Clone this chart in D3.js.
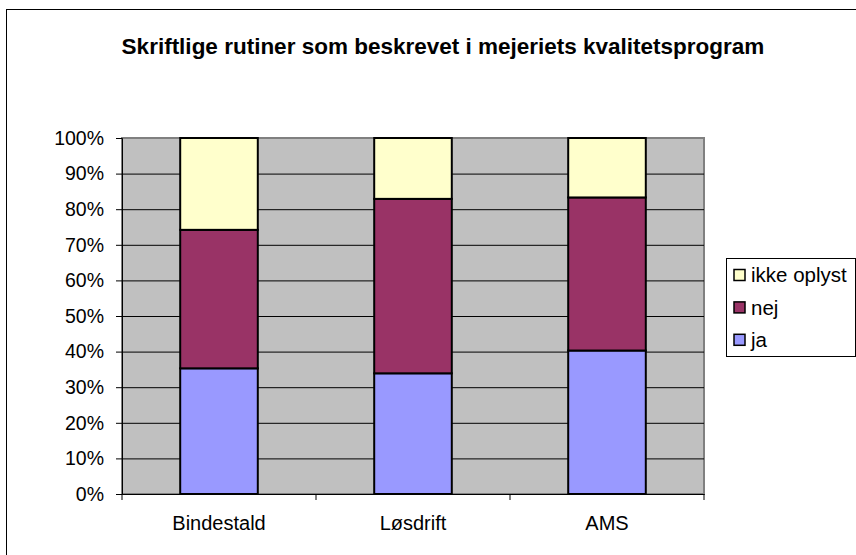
<!DOCTYPE html>
<html>
<head>
<meta charset="utf-8">
<script src="https://cdn.jsdelivr.net/npm/d3@7"></script>
<style>
  body { margin: 0; background: #fff; }
  text { font-family: Arial, "Liberation Sans", sans-serif; fill: #000; }
</style>
</head>
<body>
<svg id="chart" width="856" height="555"></svg>
<script>
// data (percent of each group)
const categories = ['Bindestald', 'Løsdrift', 'AMS'];
const ja = [35.3, 33.9, 40.3];
const nej = [38.9, 49.0, 43.0];
const ikkeOplyst = [25.8, 17.1, 16.7];
const seriesNames = ['ja', 'nej', 'ikke oplyst'];
const seriesColors = ['#9999FF', '#993366', '#FFFFCC'];
const yTicks = [0, 10, 20, 30, 40, 50, 60, 70, 80, 90, 100];

const svg = d3.select('#chart');
const margin = { top: 138, left: 122, right: 152, bottom: 61 };
const plotW = 856 - margin.left - margin.right;
const plotH = 555 - margin.top - margin.bottom;

// outer chart frame
svg.append('rect')
    .attr('x', 6.5).attr('y', 9.5)
    .attr('width', 860).attr('height', 560)
    .attr('fill', '#fff')
    .attr('stroke', '#000');

svg.append('text')
    .attr('x', 443).attr('y', 54)
    .attr('text-anchor', 'middle')
    .style('font-weight', 'bold')
    .style('font-size', '22.5px')
    .text('Skriftlige rutiner som beskrevet i mejeriets kvalitetsprogram');

const xScale = d3.scaleBand()
    .domain(categories)
    .range([margin.left, margin.left + plotW]);

const yScale = d3.scaleLinear()
    .domain([0, 100])
    .range([margin.top + plotH, margin.top]);

// plot background
svg.append('rect')
    .attr('x', xScale.range()[0]).attr('y', yScale(100))
    .attr('width', plotW).attr('height', plotH)
    .attr('fill', '#C0C0C0')
    .attr('stroke', '#808080')
    .attr('stroke-width', 2);

// gridlines
svg.selectAll('.grid')
    .data(yTicks.slice(1, -1))
    .join('line')
    .attr('x1', margin.left).attr('x2', margin.left + plotW)
    .attr('y1', d => yScale(d) + 0.5).attr('y2', d => yScale(d) + 0.5)
    .attr('stroke', '#000');

// stack the series
const rows = categories.map((c, i) => ({ cat: c, 'ja': ja[i], 'nej': nej[i], 'ikke oplyst': ikkeOplyst[i] }));
const stacked = d3.stack().keys(seriesNames)(rows);

const barW = xScale.bandwidth() / 2.5;
svg.append('g')
    .selectAll('g')
    .data(stacked)
    .join('g')
    .attr('fill', (d, i) => seriesColors[i])
    .selectAll('rect')
    .data(d => d)
    .join('rect')
    .attr('x', d => xScale(d.data.cat) + (xScale.bandwidth() - barW) / 2)
    .attr('y', d => yScale(d[1]))
    .attr('width', barW)
    .attr('height', d => yScale(d[0]) - yScale(d[1]))
    .attr('stroke', '#000')
    .attr('stroke-width', 2);

// y axis
const yAxisG = svg.append('g')
    .attr('transform', `translate(${margin.left},0)`)
    .call(d3.axisLeft(yScale).tickValues(yTicks).tickFormat(d => d + '%').tickSize(6).tickPadding(12));
yAxisG.selectAll('text').style('font-size', '19.5px');

// x axis with ticks on band edges
const xAxisG = svg.append('g')
    .attr('transform', `translate(0,${margin.top + plotH})`)
    .call(d3.axisBottom(xScale).tickSize(0).tickPadding(22));
xAxisG.selectAll('text').style('font-size', '20px');
xAxisG.selectAll('.edge')
    .data(d3.range(categories.length + 1))
    .join('line')
    .attr('x1', i => margin.left + i * xScale.step())
    .attr('x2', i => margin.left + i * xScale.step())
    .attr('y1', 0).attr('y2', 6)
    .attr('stroke', '#000');
svg.selectAll('.domain').attr('stroke', '#000');

// legend
const legend = svg.append('g').attr('transform', 'translate(726,258)');
legend.append('rect')
    .attr('x', 0.5).attr('y', 0.5)
    .attr('width', 129).attr('height', 98)
    .attr('fill', '#fff')
    .attr('stroke', '#000');
const legendItems = seriesNames.slice().reverse();
const legendColors = seriesColors.slice().reverse();
const item = legend.selectAll('.item')
    .data(legendItems)
    .join('g')
    .attr('transform', (d, i) => `translate(0,${17 + i * 32.4})`);
item.append('rect')
    .attr('x', 8).attr('y', -5.5)
    .attr('width', 11).attr('height', 11)
    .attr('fill', (d, i) => legendColors[i])
    .attr('stroke', '#000')
    .attr('stroke-width', 1.5);
item.append('text')
    .attr('x', 25).attr('dy', '0.35em')
    .style('font-size', '20.5px')
    .text(d => d);
</script>
</body>
</html>
